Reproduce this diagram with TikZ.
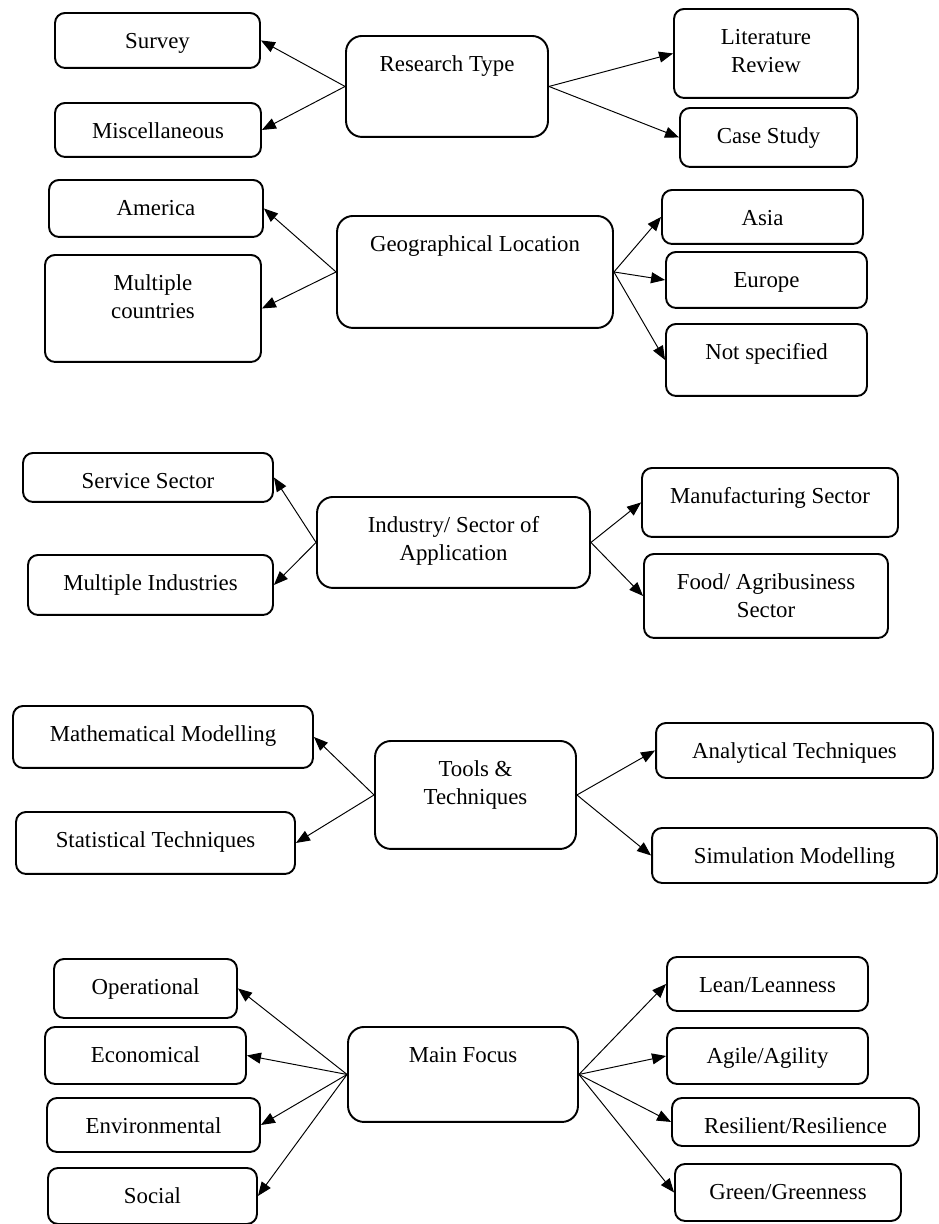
\documentclass[tikz,border=0pt]{standalone}
\usepackage{fontspec}
\setmainfont{Liberation Serif}
\usepackage{tikz}
\usetikzlibrary{arrows.meta}

\begin{document}
\begin{tikzpicture}[
  x=0.02cm, y=-0.02cm,
  font=\fontsize{13}{16}\selectfont,
  box/.style={draw, line width=1.1pt, rounded corners=0.2cm, anchor=north,
    inner sep=0pt, align=center, text height=0.72cm},
  twoline/.style={text height=1.28cm},
  hub/.style={box, rounded corners=0.32cm},
  arr/.style={-{Triangle[length=0.28cm,width=0.22cm]}, line width=0.55pt}
]
  \useasboundingbox (0,0) rectangle (939,1224);

  % research type
  \node[hub, minimum width=4.04cm, text depth=1.30cm] (restype) at (447,35) {Research Type};
  \node[box, minimum width=4.10cm, text depth=0.38cm] (survey) at (157.5,12) {Survey};
  \node[box, minimum width=4.12cm, text depth=0.36cm] (misc) at (158,102) {Miscellaneous};
  \node[box, twoline, minimum width=3.68cm, text depth=0.50cm] (litrev) at (766,8) {Literature\\Review};
  \node[box, minimum width=3.54cm, text depth=0.46cm] (casestudy) at (768.5,107) {Case Study};

  % geographical location
  \node[hub, minimum width=5.52cm, text depth=1.52cm] (geoloc) at (475,215) {Geographical Location};
  \node[box, minimum width=4.28cm, text depth=0.42cm] (america) at (156,179) {America};
  \node[box, twoline, minimum width=4.32cm, text depth=0.86cm] (multicountry) at (153,254) {Multiple\\countries};
  \node[box, minimum width=4.02cm, text depth=0.36cm] (asia) at (762.5,189) {Asia};
  \node[box, minimum width=4.02cm, text depth=0.40cm] (europe) at (766.5,251) {Europe};
  \node[box, minimum width=4.02cm, text depth=0.72cm] (notspec) at (766.5,323) {Not specified};

  % industry / sector
  \node[hub, twoline, minimum width=5.46cm, text depth=0.54cm] (industry) at (453.5,496) {Industry/ Sector of\\Application};
  \node[box, minimum width=5.00cm, text depth=0.26cm] (service) at (148,452) {Service Sector};
  \node[box, minimum width=4.90cm, text depth=0.48cm] (multiind) at (150.5,554) {Multiple Industries};
  \node[box, minimum width=5.12cm, text depth=0.66cm] (manuf) at (770,467) {Manufacturing Sector};
  \node[box, twoline, minimum width=4.88cm, text depth=0.40cm] (food) at (766,553) {Food/ Agribusiness\\Sector};

  % tools and techniques
  \node[hub, twoline, minimum width=4.02cm, text depth=0.88cm] (tools) at (475.5,740) {Tools \&\\Techniques};
  \node[box, minimum width=6.00cm, text depth=0.52cm] (mathmod) at (163,705) {Mathematical Modelling};
  \node[box, minimum width=5.58cm, text depth=0.52cm] (stattech) at (155.5,811) {Statistical Techniques};
  \node[box, minimum width=5.54cm, text depth=0.38cm] (analytic) at (794.5,722) {Analytical Techniques};
  \node[box, minimum width=5.70cm, text depth=0.38cm] (simmod) at (794.5,827) {Simulation Modelling};

  % main focus
  \node[hub, minimum width=4.60cm, text depth=1.18cm] (mainfocus) at (463,1026) {Main Focus};
  \node[box, minimum width=3.66cm, text depth=0.46cm] (operational) at (145.5,958) {Operational};
  \node[box, minimum width=4.02cm, text depth=0.42cm] (economical) at (145.5,1026) {Economical};
  \node[box, minimum width=4.26cm, text depth=0.36cm] (environmental) at (153.5,1097) {Environmental};
  \node[box, minimum width=4.18cm, text depth=0.40cm] (social) at (152.5,1167) {Social};
  \node[box, minimum width=4.02cm, text depth=0.36cm] (lean) at (767.5,956) {Lean/Leanness};
  \node[box, minimum width=4.02cm, text depth=0.40cm] (agile) at (767.5,1027) {Agile/Agility};
  \node[box, minimum width=4.94cm, text depth=0.24cm] (resilient) at (795.5,1097) {Resilient/Resilience};
  \node[box, minimum width=4.52cm, text depth=0.42cm] (green) at (788,1163) {Green/Greenness};

  % connectors
  \foreach \from/\to in {restype/survey, restype/misc, geoloc/america, geoloc/multicountry,
      industry/service, industry/multiind, tools/mathmod, tools/stattech,
      mainfocus/operational, mainfocus/economical, mainfocus/environmental, mainfocus/social}
    \draw[arr] (\from.west) -- (\to.east);
  \foreach \from/\to in {restype/litrev, restype/casestudy, geoloc/asia, geoloc/europe, geoloc/notspec,
      industry/manuf, industry/food, tools/analytic, tools/simmod,
      mainfocus/lean, mainfocus/agile, mainfocus/resilient, mainfocus/green}
    \draw[arr] (\from.east) -- (\to.west);
\end{tikzpicture}
\end{document}
